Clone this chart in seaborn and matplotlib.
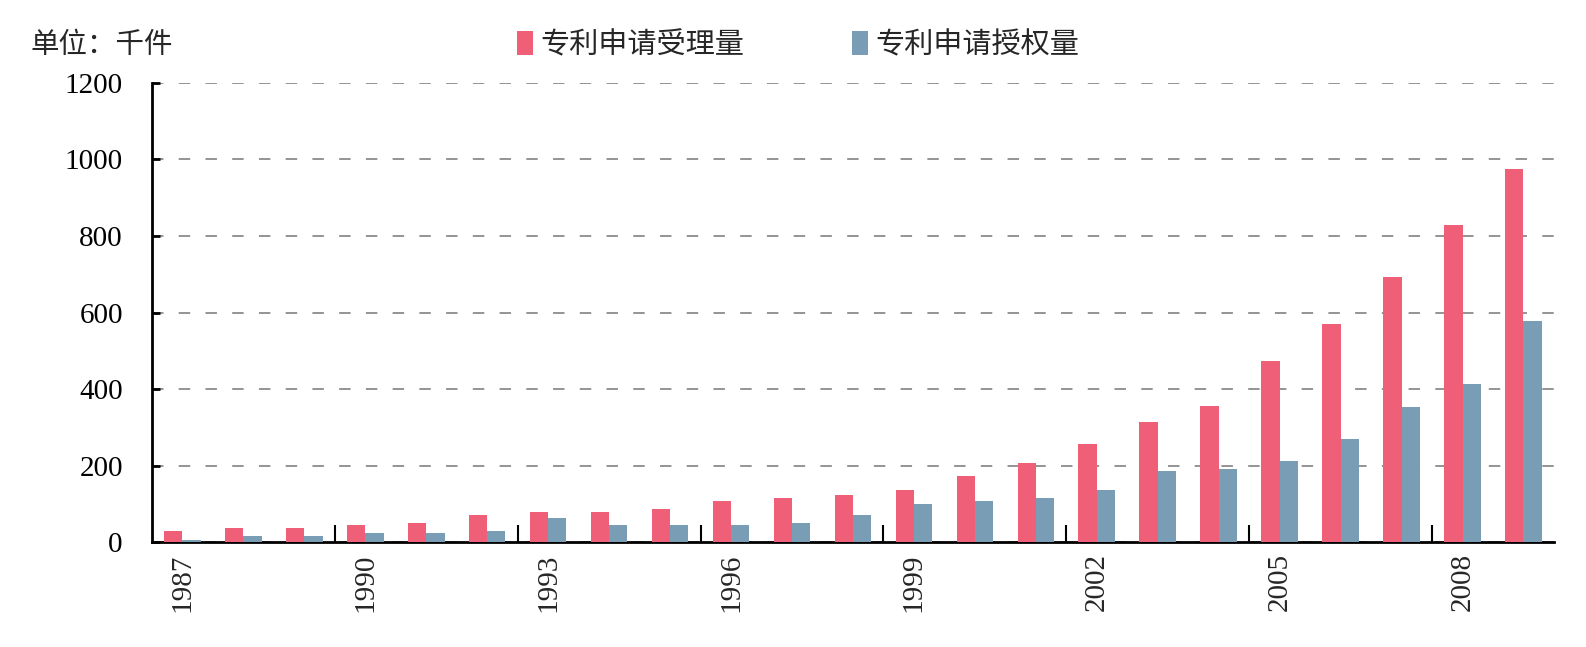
import pandas as pd
import matplotlib.pyplot as plt
import matplotlib.ticker as mticker
import seaborn as sns

# Data (thousand items)
years = list(range(1987, 2010))
accepted = [28, 36, 36, 44, 51, 72, 79, 79, 87, 107, 115, 123, 136, 172, 208,
            256, 314, 356, 474, 571, 693, 828, 975]
granted = [7, 16, 16, 23, 23, 28, 64, 44, 44, 44, 51, 72, 100, 107, 115,
           136, 187, 192, 213, 270, 354, 412, 579]
series_names = ['专利申请受理量', '专利申请授权量']
colors = ['#EF5F78', '#789DB5']

df = pd.DataFrame({
    'year': years * 2,
    'value': accepted + granted,
    'series': [series_names[0]] * len(years) + [series_names[1]] * len(years),
})

sns.set_style('white')
plt.rcParams['font.family'] = ['Liberation Serif', 'Noto Sans CJK SC']
cjk = ['Noto Sans CJK SC', 'DejaVu Sans']

fig = plt.figure(figsize=(15.86, 6.47), dpi=100)
ax = fig.add_axes([0.0958, 0.162, 0.884, 0.710])

sns.barplot(data=df, x='year', y='value', hue='series', palette=colors,
            saturation=1, width=0.6, gap=0, linewidth=0, ax=ax, zorder=3)

# axes, grid
ax.set_ylim(0, 1200)
ax.set_xlim(-0.5, len(years) - 0.5)
ax.yaxis.set_major_locator(mticker.MultipleLocator(200))
ax.grid(axis='y', linestyle=(0, (7.5, 10)), color='#777777', linewidth=1.1, zorder=0)
ax.set_axisbelow(True)
for side in ['top', 'right']:
    ax.spines[side].set_visible(False)
for side in ['left', 'bottom']:
    ax.spines[side].set_color('black')
    ax.spines[side].set_linewidth(2)

ax.tick_params(axis='y', direction='in', length=6, width=2, labelsize=21, pad=21,
               colors='black', left=True)

# year labels every 3 years at group centres, ticks at group boundaries
label_pos = list(range(0, len(years), 3))
ax.set_xticks(label_pos)
ax.set_xticklabels([str(years[i]) for i in label_pos], rotation=90, fontsize=21)
ax.set_xticks([p - 0.5 for p in label_pos if p > 0], minor=True)
ax.tick_params(axis='x', which='major', length=0, pad=8)
ax.tick_params(axis='x', which='minor', direction='in', length=12, width=1.5,
               color='black', bottom=True)
ax.set_xlabel('')
ax.set_ylabel('')

sns.move_legend(ax, loc='center', bbox_to_anchor=(0.503, 0.93),
                bbox_transform=fig.transFigure, ncol=2, frameon=False, title=None,
                handlelength=0.55, handleheight=0.9, handletextpad=0.25,
                columnspacing=3.7, prop={'family': cjk, 'size': 21})

fig.text(0.019, 0.93, '单位：千件', fontsize=20.5, family=cjk, va='center', ha='left')

fig.savefig('out.png', dpi=100)
